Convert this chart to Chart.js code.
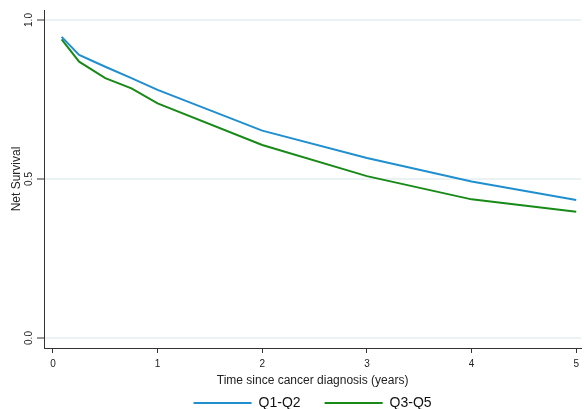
<!DOCTYPE html>
<html>
<head>
<meta charset="utf-8">
<script src="https://cdn.jsdelivr.net/npm/chart.js@4/dist/chart.umd.min.js"></script>
<style>
html,body{margin:0;padding:0;background:#fff;}
#wrap{width:584px;height:409px;position:relative;}
</style>
</head>
<body>
<div id="wrap"><canvas id="c" width="584" height="409"></canvas></div>
<script>
const years = [0.083, 0.25, 0.5, 0.75, 1, 2, 3, 4, 5];
const q1q2 = [0.947, 0.890, 0.853, 0.817, 0.780, 0.652, 0.566, 0.492, 0.434];
const q3q5 = [0.939, 0.869, 0.817, 0.785, 0.738, 0.607, 0.509, 0.436, 0.397];
const xTicks = [0, 1, 2, 3, 4, 5];
const yTicks = [0, 0.5, 1];
const seriesNames = ['Q1-Q2', 'Q3-Q5'];

const FONT = "'Liberation Sans', Arial, sans-serif";
const pts = arr => arr.map((v, i) => ({x: years[i], y: v}));

new Chart(document.getElementById('c'), {
  type: 'line',
  data: {
    datasets: [
      {label: seriesNames[0], data: pts(q1q2), borderColor: '#1f8fd0', backgroundColor: '#1f8fd0', borderWidth: 2, pointRadius: 0, tension: 0},
      {label: seriesNames[1], data: pts(q3q5), borderColor: '#178a17', backgroundColor: '#178a17', borderWidth: 2, pointRadius: 0, tension: 0}
    ]
  },
  options: {
    responsive: false,
    animation: false,
    layout: {padding: {top: 10, right: 0, left: 0, bottom: -11}},
    plugins: {
      tooltip: {enabled: false},
      legend: {
        position: 'bottom',
        fullSize: false,
        labels: {
          usePointStyle: true,
          pointStyle: 'line',
          pointStyleWidth: 58,
          padding: 24,
          color: '#111',
          font: {family: FONT, size: 14}
        }
      }
    },
    scales: {
      x: {
        type: 'linear',
        min: -0.0856,
        max: 5.0475,
        afterBuildTicks: s => { s.ticks = xTicks.map(v => ({value: v})); },
        afterFit: s => { s.height = 24; },
        grid: {display: true, drawOnChartArea: false, tickLength: 5, tickColor: '#333', tickWidth: 1},
        border: {display: true, color: '#333', width: 1},
        ticks: {color: '#222', padding: 5, font: {family: FONT, size: 10}, maxRotation: 0, callback: v => String(v)},
        title: {display: true, text: 'Time since cancer diagnosis (years)', color: '#222', font: {family: FONT, size: 12}, padding: {top: 0, bottom: -16}}
      },
      y: {
        type: 'linear',
        min: -0.0314,
        max: 1.0314,
        afterBuildTicks: s => { s.ticks = yTicks.map(v => ({value: v})); },
        afterFit: s => { s.width = 44; },
        grid: {color: '#eaf2f3', lineWidth: 2, tickLength: 7, tickColor: '#333', tickWidth: 1},
        border: {display: true, color: '#333', width: 1},
        ticks: {color: '#222', padding: 1, minRotation: 90, maxRotation: 90, crossAlign: 'center', font: {family: FONT, size: 10}, callback: v => v.toFixed(1)},
        title: {display: true, text: 'Net Survival', color: '#222', font: {family: FONT, size: 12}, padding: {top: 9, bottom: 0}}
      }
    }
  }
});
</script>
</body>
</html>
